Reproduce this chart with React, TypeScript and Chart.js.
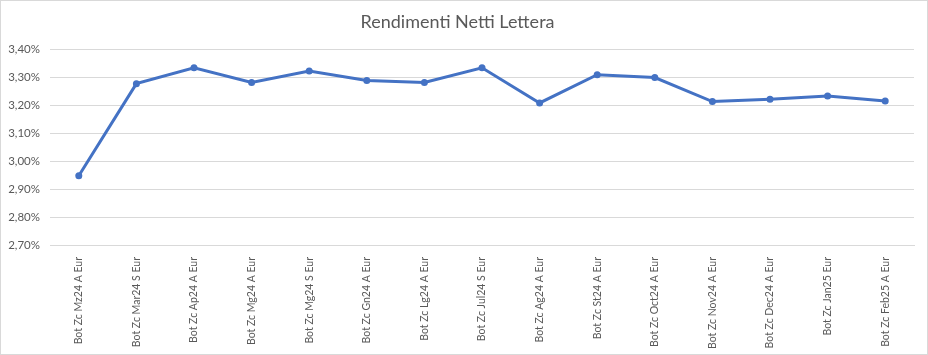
import React, { useEffect, useRef } from "react";
import { Chart, registerables } from "chart.js";

Chart.register(...registerables);

const categories = [
  "Bot Zc Mz24 A Eur",
  "Bot Zc Mar24 S Eur",
  "Bot Zc Ap24 A Eur",
  "Bot Zc Mg24 A Eur",
  "Bot Zc Mg24 S Eur",
  "Bot Zc Gn24 A Eur",
  "Bot Zc Lg24 A Eur",
  "Bot Zc Jul24 S Eur",
  "Bot Zc Ag24 A Eur",
  "Bot Zc St24 A Eur",
  "Bot Zc Oct24 A Eur",
  "Bot Zc Nov24 A Eur",
  "Bot Zc Dec24 A Eur",
  "Bot Zc Jan25 Eur",
  "Bot Zc Feb25 A Eur",
];

const rendimenti = [
  2.948, 3.278, 3.335, 3.282, 3.323, 3.289, 3.282, 3.335, 3.209, 3.31, 3.3,
  3.214, 3.222, 3.234, 3.216,
];

const title = "Rendimenti Netti Lettera";
const yMin = 2.7;
const yMax = 3.4;
const yStep = 0.1;

export default function App() {
  const ref = useRef<HTMLCanvasElement | null>(null);

  useEffect(() => {
    document.body.style.margin = "0";
    if (!ref.current) return;
    const font = "Lato, 'Open Sans', sans-serif";
    const chart = new Chart(ref.current, {
      type: "line",
      data: {
        labels: categories,
        datasets: [
          {
            label: title,
            data: rendimenti,
            borderColor: "#4472C4",
            backgroundColor: "#4472C4",
            borderWidth: 3,
            pointRadius: 3.5,
            pointBorderWidth: 0,
            pointBackgroundColor: "#4472C4",
            tension: 0,
          },
        ],
      },
      options: {
        animation: false,
        responsive: false,
        maintainAspectRatio: false,
        layout: { padding: { left: 0, right: 13, top: 0, bottom: 0 } },
        plugins: {
          legend: { display: false },
          tooltip: { enabled: false },
          title: {
            display: true,
            text: title,
            color: "#595959",
            font: { family: font, size: 18, weight: "normal" },
            padding: { top: 10, bottom: 17 },
          },
        },
        scales: {
          x: {
            offset: true,
            grid: { display: false, drawTicks: false },
            border: { display: true, color: "#d9d9d9", width: 1 },
            ticks: {
              color: "#595959",
              font: { family: font, size: 10.5 },
              minRotation: 90,
              maxRotation: 90,
              autoSkip: false,
              padding: 12,
            },
            afterFit: (s: any) => {
              s.height = 109;
            },
          },
          y: {
            min: yMin,
            max: yMax,
            grid: { color: "#d9d9d9", drawTicks: false },
            border: { display: false },
            ticks: {
              stepSize: yStep,
              color: "#595959",
              font: { family: font, size: 11.5 },
              padding: 10,
              callback: (v: any) =>
                Number(v).toFixed(2).replace(".", ",") + "%",
            },
            afterFit: (s: any) => {
              s.width = 49;
            },
          },
        },
      },
    });
    return () => chart.destroy();
  }, []);

  return (
    <div
      style={{
        width: 928,
        height: 355,
        boxSizing: "border-box",
        border: "1px solid #d9d9d9",
        background: "#fff",
      }}
    >
      <canvas ref={ref} width={926} height={353} />
    </div>
  );
}
